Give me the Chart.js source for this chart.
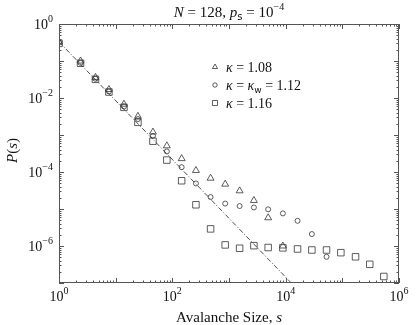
<!DOCTYPE html>
<html><head><meta charset="utf-8">
<script src="https://cdn.jsdelivr.net/npm/chart.js@4/dist/chart.umd.min.js"></script>
<style>html,body{margin:0;padding:0;background:#fff}#wrap{width:416px;height:325px}</style>
</head><body><div id="wrap"><canvas id="c" width="416" height="325"></canvas></div>
<script>
// ---- data ----
const sizes = [1, 2.4, 4.4, 7.6, 14, 24.7, 45.5, 80, 146, 261, 473, 857, 1540, 2750, 4910, 8930, 16200, 29000, 52600, 94200, 171000, 305000, 540000];
const pKappa108 = [3.3e-1, 1.0e-1, 3.6e-2, 1.7e-2, 6.8e-3, 3.2e-3, 1.2e-3, 5.1e-4, 2.3e-4, 1.1e-4, 6.8e-5, 4.7e-5, 3.1e-5, 1.7e-5, 5.8e-6, 1.0e-6];
const pKappa112 = [3.2e-1, 8.9e-2, 3.3e-2, 1.5e-2, 5.9e-3, 2.7e-3, 9.5e-4, 3.6e-4, 1.35e-4, 4.9e-5, 2.1e-5, 1.4e-5, 1.2e-5, 1.1e-5, 9.8e-6, 7.6e-6, 4.8e-6, 2.1e-6, 5.1e-7];
const pKappa116 = [3.0e-1, 8.7e-2, 3.2e-2, 1.45e-2, 5.6e-3, 2.2e-3, 6.8e-4, 2.1e-4, 5.8e-5, 1.3e-5, 2.9e-6, 1.07e-6, 8.7e-7, 1.02e-6, 9.1e-7, 8.9e-7, 8.3e-7, 7.8e-7, 7.8e-7, 6.6e-7, 5.1e-7, 3.2e-7, 1.5e-7];
const fitS = [1, 100000];
const fitP = [0.33, 3.7e-9];
const xTickVals = [1, 100, 10000, 1000000];
const xTickExps = ['0', '2', '4', '6'];
const yTickVals = [1, 1e-2, 1e-4, 1e-6];
const yTickExps = ['0', '\u22122', '\u22124', '\u22126'];
const legendLabels = ['1.08', '1.12', '1.16'];

const SERIF = '"Liberation Serif", "DejaVu Serif", serif';
const INK = '#333';

function pts(xs, ys) { return ys.map((y, i) => ({ x: xs[i], y })); }

function drawRuns(ctx, runs, x, y, align) {
  let w = 0;
  runs.forEach(r => { ctx.font = r.font; r.w = ctx.measureText(r.t).width; w += r.w; });
  let cx = align === 'center' ? x - w / 2 : align === 'right' ? x - w : x;
  ctx.textAlign = 'left';
  ctx.textBaseline = 'alphabetic';
  runs.forEach(r => { ctx.font = r.font; ctx.fillText(r.t, cx, y + (r.dy || 0)); cx += r.w; });
}
function pow10(exp) {
  return [{ t: '10', font: '14px ' + SERIF }, { t: exp, font: '10px ' + SERIF, dy: -7 }];
}

const axesPlugin = {
  id: 'axesDeco',
  afterDraw(chart) {
    const ctx = chart.ctx, a = chart.chartArea, xs = chart.scales.x, ys = chart.scales.y;
    ctx.save();
    ctx.strokeStyle = '#555';
    ctx.lineWidth = 1;
    ctx.strokeRect(a.left + 0.5, a.top + 0.5, a.right - a.left - 1, a.bottom - a.top - 1);
    ctx.beginPath();
    for (let d = 0; d <= 6; d++) {
      for (let k = 1; k <= 9; k++) {
        const v = k * Math.pow(10, d);
        if (v > 1e6) break;
        const px = Math.round(xs.getPixelForValue(v)) + 0.5;
        const L = k === 1 ? 5 : 2.5;
        ctx.moveTo(px, a.bottom); ctx.lineTo(px, a.bottom - L);
        ctx.moveTo(px, a.top); ctx.lineTo(px, a.top + L);
      }
    }
    for (let d = -7; d <= 0; d++) {
      for (let k = 1; k <= 9; k++) {
        const v = k * Math.pow(10, d);
        if (v > 1) break;
        const py = Math.round(ys.getPixelForValue(v)) + 0.5;
        const L = k === 1 ? 5 : 2.5;
        ctx.moveTo(a.left, py); ctx.lineTo(a.left + L, py);
        ctx.moveTo(a.right, py); ctx.lineTo(a.right - L, py);
      }
    }
    ctx.stroke();
    ctx.fillStyle = '#111';
    xTickVals.forEach((v, i) => {
      drawRuns(ctx, pow10(xTickExps[i]), xs.getPixelForValue(v), a.bottom + 18, 'center');
    });
    yTickVals.forEach((v, i) => {
      drawRuns(ctx, pow10(yTickExps[i]), a.left - 6, ys.getPixelForValue(v) + 5, 'right');
    });
    const cx = (a.left + a.right) / 2;
    drawRuns(ctx, [{ t: 'Avalanche Size, ', font: '15px ' + SERIF }, { t: 's', font: 'italic 15px ' + SERIF }], cx, 322, 'center');
    drawRuns(ctx, [
      { t: 'N', font: 'italic 15px ' + SERIF },
      { t: ' = 128, ', font: '15px ' + SERIF },
      { t: 'p', font: 'italic 15px ' + SERIF },
      { t: 's', font: '10px "DejaVu Sans", sans-serif', dy: 3 },
      { t: ' = 10', font: '15px ' + SERIF },
      { t: '\u22124', font: '10px ' + SERIF, dy: -7 }
    ], cx, 17, 'center');
    ctx.save();
    ctx.translate(17, (a.top + a.bottom) / 2 - 3);
    ctx.rotate(-Math.PI / 2);
    drawRuns(ctx, [
      { t: 'P', font: 'italic 15px ' + SERIF },
      { t: '(', font: '15px ' + SERIF },
      { t: 's', font: 'italic 15px ' + SERIF },
      { t: ')', font: '15px ' + SERIF }
    ], 0, 0, 'center');
    ctx.restore();
    // legend
    const lx = 215, rows = [67, 85, 103], styles = ['triangle', 'circle', 'rect'], rads = [3, 2.2, 3.6];
    rows.forEach((ry, i) => {
      ctx.save();
      ctx.strokeStyle = INK; ctx.lineWidth = 0.8; ctx.fillStyle = 'rgba(0,0,0,0)';
      Chart.helpers.drawPoint(ctx, { pointStyle: styles[i], radius: rads[i], borderWidth: 0.8 }, lx, ry);
      ctx.restore();
      const runs = [{ t: '\u03BA', font: 'italic 14px ' + SERIF }, { t: ' = ', font: '14px ' + SERIF }];
      if (i === 1) {
        runs.push({ t: '\u03BA', font: 'italic 14px ' + SERIF });
        runs.push({ t: 'w', font: '9px "DejaVu Sans", sans-serif', dy: 3 });
        runs.push({ t: ' = ', font: '14px ' + SERIF });
      }
      runs.push({ t: legendLabels[i], font: '14px ' + SERIF });
      ctx.fillStyle = '#111';
      drawRuns(ctx, runs, 226, ry + 5, 'left');
    });
    ctx.restore();
  }
};

const mk = { borderColor: INK, backgroundColor: 'rgba(0,0,0,0)', borderWidth: 0.8, showLine: false };
new Chart(document.getElementById('c'), {
  type: 'scatter',
  data: {
    datasets: [
      { label: 'fit', data: pts(fitS, fitP), showLine: true, pointRadius: 0, borderColor: '#222', borderWidth: 0.8, borderDash: [5, 2, 1, 2], fill: false },
      Object.assign({ label: 'k108', data: pts(sizes, pKappa108), pointStyle: 'triangle', pointRadius: 4 }, mk),
      Object.assign({ label: 'k112', data: pts(sizes, pKappa112), pointStyle: 'circle', pointRadius: 2.5 }, mk),
      Object.assign({ label: 'k116', data: pts(sizes, pKappa116), pointStyle: 'rect', pointRadius: 4.6 }, mk)
    ]
  },
  options: {
    responsive: false, animation: false, events: [],
    layout: { padding: { left: 59, right: 17, top: 24, bottom: 42 } },
    plugins: { legend: { display: false }, tooltip: { enabled: false } },
    scales: {
      x: { type: 'logarithmic', min: 1, max: 1e6, display: false },
      y: { type: 'logarithmic', min: 1e-7, max: 1, display: false }
    }
  },
  plugins: [axesPlugin]
});
</script></body></html>
